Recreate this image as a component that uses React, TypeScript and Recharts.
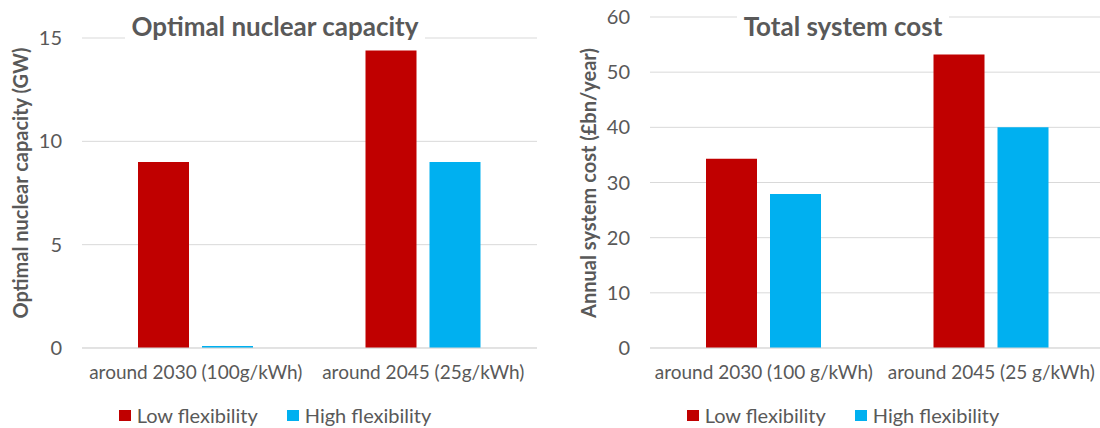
import { BarChart, Bar, XAxis, YAxis, CartesianGrid, Legend } from 'recharts';

const SERIES_NAMES = ['Low flexibility', 'High flexibility'];
const SERIES_COLORS = ['#C00000', '#00B0F0'];

// Optimal nuclear capacity, GW
const CAPACITY_PERIODS = ['around 2030 (100g/kWh)', 'around 2045 (25g/kWh)'];
const CAPACITY_LOW = [9.0, 14.4];
const CAPACITY_HIGH = [0.1, 9.0];
const CAPACITY_TICKS = [0, 5, 10, 15];

// Annual system cost, £bn/year
const COST_PERIODS = ['around 2030 (100 g/kWh)', 'around 2045 (25 g/kWh)'];
const COST_LOW = [34.3, 53.2];
const COST_HIGH = [27.9, 40.0];
const COST_TICKS = [0, 10, 20, 30, 40, 50, 60];

const FONT = 'Lato, "Open Sans", sans-serif';
const GREY = '#595959';
const GRID = '#D9D9D9';
const W = 550;
const H = 428;

const toRows = (periods: string[], low: number[], high: number[]) =>
  periods.map((period, i) => ({ period, low: low[i], high: high[i] }));

function LegendRow({ payload }: any) {
  // keep series order rather than the legend's alphabetical sort
  const items = [...(payload || [])].sort(
    (a: any, b: any) => SERIES_NAMES.indexOf(a.value) - SERIES_NAMES.indexOf(b.value)
  );
  return (
    <div
      style={{
        display: 'flex',
        justifyContent: 'center',
        alignItems: 'center',
        gap: 29,
        height: 20,
        lineHeight: '20px',
        fontFamily: FONT,
        fontSize: 20,
        color: GREY,
      }}
    >
      {items.map((item: any) => (
        <div key={item.value} style={{ display: 'flex', alignItems: 'center', gap: 6 }}>
          <span style={{ width: 12, height: 11, background: item.color, display: 'inline-block' }} />
          <span>{item.value}</span>
        </div>
      ))}
    </div>
  );
}

interface PanelProps {
  title: string;
  yLabel: string;
  rows: Array<{ period: string; low: number; high: number }>;
  ticks: number[];
  plotTop: number;
  left: number;
}

function Panel({ title, yLabel, rows, ticks, plotTop, left }: PanelProps) {
  // rotated axis title, centred a little above the plot middle
  const axisTitle = () => (
    <text
      x={20}
      y={183}
      transform="rotate(-90 20 183)"
      textAnchor="middle"
      dominantBaseline="central"
      fill={GREY}
      fontFamily={FONT}
      fontSize={20}
      fontWeight={700}
    >
      {yLabel}
    </text>
  );

  return (
    <div style={{ position: 'absolute', left, top: 0, width: W, height: H }}>
      <BarChart
        width={W}
        height={H}
        data={rows}
        margin={{ top: plotTop, right: 13, bottom: 0, left: 0 }}
        barSize={51}
        barGap={13}
      >
        <CartesianGrid vertical={false} stroke={GRID} />
        <XAxis
          dataKey="period"
          height={80}
          interval={0}
          tickLine={false}
          tickSize={0}
          tickMargin={18}
          axisLine={{ stroke: GRID }}
          tick={{ fill: GREY, fontSize: 19, fontFamily: FONT }}
        />
        <YAxis
          width={82}
          domain={[0, ticks[ticks.length - 1]]}
          ticks={ticks}
          axisLine={false}
          tickLine={false}
          tickSize={0}
          tickMargin={20}
          tick={{ fill: GREY, fontSize: 20, fontFamily: FONT }}
          label={{ content: axisTitle }}
        />
        <Legend
          verticalAlign="middle"
          layout="horizontal"
          wrapperStyle={{ left: 0, top: 405, width: W }}
          content={(p: any) => <LegendRow payload={p.payload} />}
        />
        <Bar dataKey="low" name={SERIES_NAMES[0]} fill={SERIES_COLORS[0]} isAnimationActive={false} />
        <Bar dataKey="high" name={SERIES_NAMES[1]} fill={SERIES_COLORS[1]} isAnimationActive={false} />
      </BarChart>
      {/* chart title sits on a white box over the top gridline */}
      <div
        style={{
          position: 'absolute',
          left: 0,
          top: 10,
          width: W,
          textAlign: 'center',
          pointerEvents: 'none',
        }}
      >
        <span
          style={{
            background: '#fff',
            padding: '0 7px',
            fontFamily: FONT,
            fontSize: 26,
            lineHeight: '32px',
            fontWeight: 700,
            color: GREY,
            display: 'inline-block',
          }}
        >
          {title}
        </span>
      </div>
    </div>
  );
}

export default function App() {
  return (
    <div
      style={{
        position: 'absolute',
        left: 0,
        top: 0,
        width: 1100,
        height: H,
        overflow: 'hidden',
        background: '#fff',
      }}
    >
      <Panel
        title="Optimal nuclear capacity"
        yLabel="Optimal nuclear capacity (GW)"
        rows={toRows(CAPACITY_PERIODS, CAPACITY_LOW, CAPACITY_HIGH)}
        ticks={CAPACITY_TICKS}
        plotTop={38}
        left={0}
      />
      <Panel
        title="Total system cost"
        yLabel="Annual system cost (£bn/year)"
        rows={toRows(COST_PERIODS, COST_LOW, COST_HIGH)}
        ticks={COST_TICKS}
        plotTop={17}
        left={568}
      />
    </div>
  );
}
